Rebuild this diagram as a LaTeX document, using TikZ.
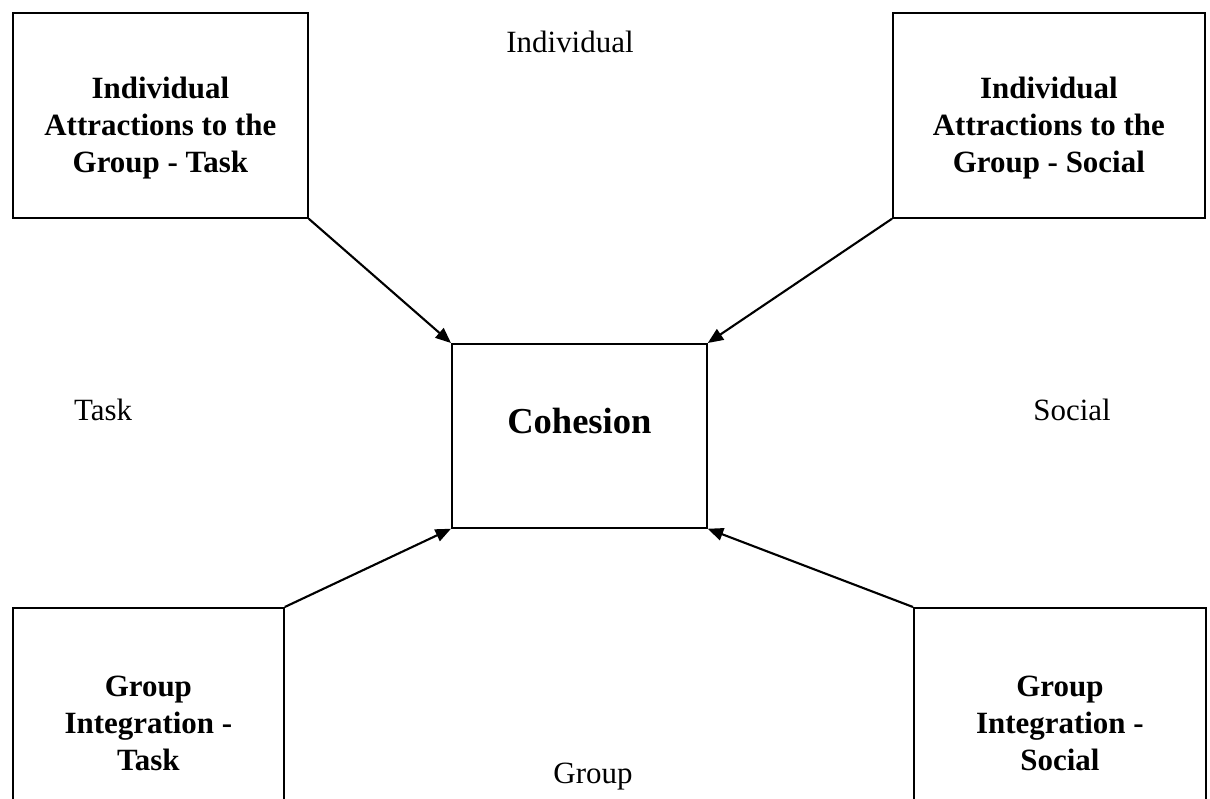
\documentclass[tikz,border=0pt]{standalone}
\usepackage{fontspec}
\setmainfont{Liberation Serif}
\usetikzlibrary{arrows.meta,positioning}
\newcommand{\uppad}{\rule{0pt}{33pt}}
\newcommand{\downpad}{\rule[-21pt]{0pt}{0pt}}

\begin{document}
\begin{tikzpicture}[x=0.025cm, y=-0.025cm, >={Triangle[length=11pt,width=9pt]},
    every node/.style={font=\fontsize{22}{26.5}\selectfont},
    box/.style={draw, line width=1.2pt, anchor=north west, align=center, inner sep=0pt,
      font=\fontsize{22}{26.5}\selectfont\bfseries},
    link/.style={->, line width=1.5pt}]
    \useasboundingbox (0,0) rectangle (1210,798);
    % four factors and the centre
    \node[box, minimum width=7.375cm, minimum height=5.125cm] (indtask) at (12,12) {\uppad Individual\\Attractions to the\\Group - Task};
    \node[box, minimum width=7.8cm, minimum height=5.125cm] (indsocial) at (892,12) {\uppad Individual\\Attractions to the\\Group - Social};
    \node[box, minimum width=6.375cm, minimum height=4.6cm, font=\fontsize{26}{30}\selectfont\bfseries] (cohesion) at (451,343) {Cohesion\downpad};
    \node[box, minimum width=6.775cm, minimum height=5.125cm] (grptask) at (12,607) {\uppad Group\\Integration -\\Task};
    \node[box, minimum width=7.3cm, minimum height=5.125cm] (grpsocial) at (913,607) {\uppad Group\\Integration -\\Social};
    % axis labels
    \node (individual) at (570,42) {Individual};
    \node (task) at (103,410) {Task};
    \node (social) at (1072,410) {Social};
    \node (group) at (593,777) {Group};
    % arrows into the centre
    \draw[link] (indtask.south east) -- (cohesion.north west);
    \draw[link] (indsocial.south west) -- (cohesion.north east);
    \draw[link] (grptask.north east) -- (cohesion.south west);
    \draw[link] (grpsocial.north west) -- (cohesion.south east);
\end{tikzpicture}
\end{document}
